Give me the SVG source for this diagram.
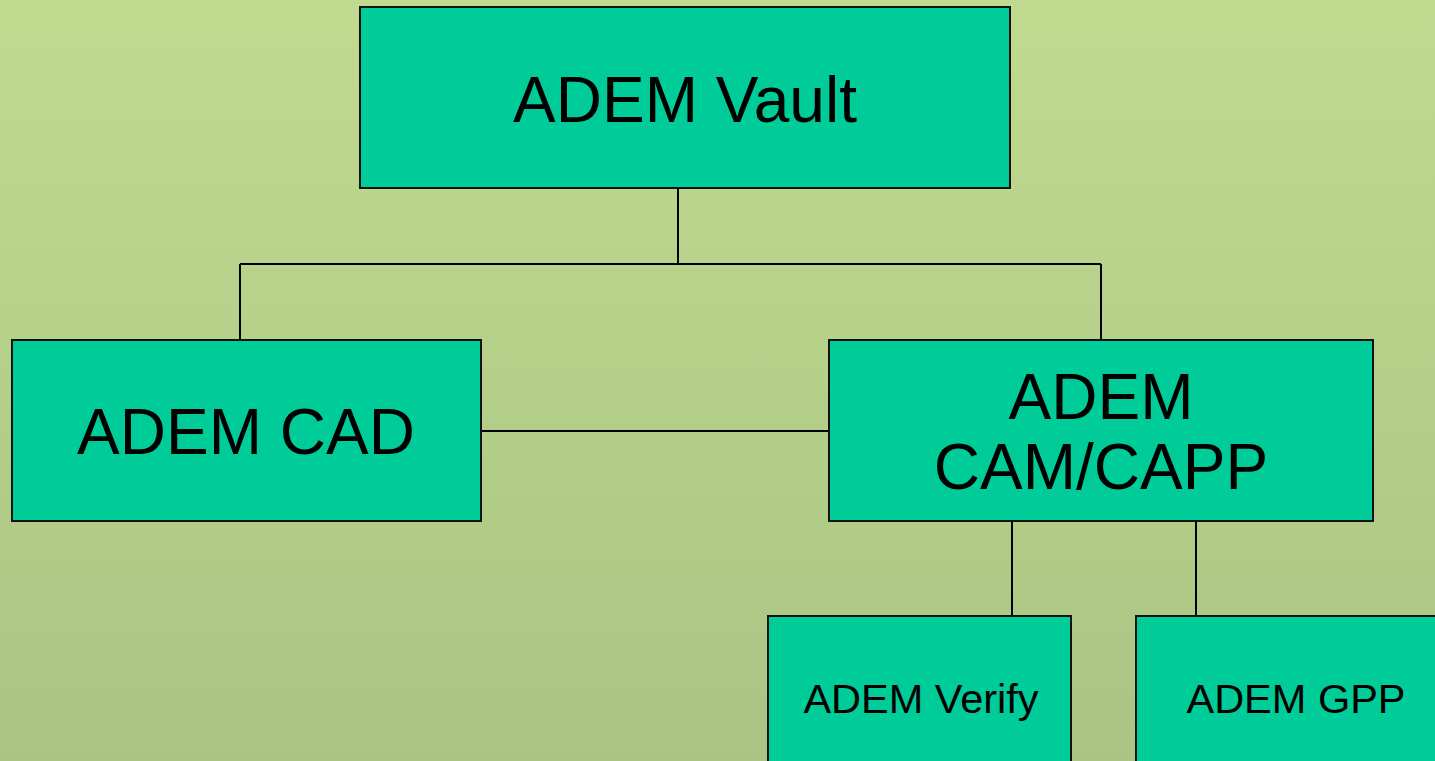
<svg xmlns="http://www.w3.org/2000/svg" width="1435" height="761" viewBox="0 0 1435 761">
<defs>
<linearGradient id="bg" x1="0" y1="0" x2="0" y2="1">
<stop offset="0" stop-color="#c0da90"/>
<stop offset="1" stop-color="#aac583"/>
</linearGradient>
</defs>
<style>
.box{fill:#00cc99;stroke:#111;stroke-width:2}
.conn line{stroke:#000;stroke-width:2}
text{font-family:"Liberation Sans",Arial,sans-serif;fill:#000;text-anchor:middle}
.big{font-size:64px}
.small{font-size:41.5px}
</style>
<rect width="1435" height="761" fill="url(#bg)"/>
<g id="connectors" class="conn">
<line x1="678" y1="188" x2="678" y2="264"/>
<line x1="240" y1="264" x2="1101" y2="264"/>
<line x1="240" y1="264" x2="240" y2="340"/>
<line x1="1101" y1="264" x2="1101" y2="340"/>
<line x1="481" y1="431" x2="829" y2="431"/>
<line x1="1012" y1="521" x2="1012" y2="616"/>
<line x1="1196" y1="521" x2="1196" y2="616"/>
</g>
<g id="vault">
<rect class="box" x="360" y="7" width="650" height="181"/>
<text class="big" x="685" y="122">ADEM Vault</text>
</g>
<g id="cad">
<rect class="box" x="12" y="340" width="469" height="181"/>
<text class="big" x="246" y="454">ADEM CAD</text>
</g>
<g id="camcapp">
<rect class="box" x="829" y="340" width="544" height="181"/>
<text class="big" x="1101" y="419">ADEM</text>
<text class="big" x="1101" y="489">CAM/CAPP</text>
</g>
<g id="verify">
<rect class="box" x="768" y="616" width="303" height="160"/>
<text class="small" x="921" y="713">ADEM Verify</text>
</g>
<g id="gpp">
<rect class="box" x="1136" y="616" width="320" height="160"/>
<text class="small" x="1296" y="713">ADEM GPP</text>
</g>
</svg>
